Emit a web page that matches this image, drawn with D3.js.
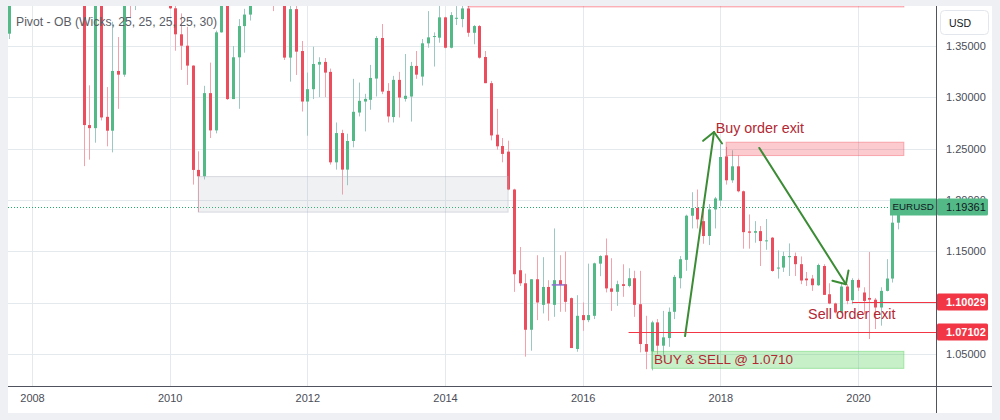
<!DOCTYPE html>
<html>
<head>
<meta charset="utf-8">
<script src="https://cdn.jsdelivr.net/npm/d3@7"></script>
<style>
html,body{margin:0;padding:0;background:#eef0f4;}
svg{display:block;font-family:"Liberation Sans",Arial,sans-serif;}
</style>
</head>
<body>
<svg id="chart" width="1000" height="420"></svg>
<script>
// ---------- DATA (EURUSD, monthly) ----------
const months = [
"2007-09","2007-10","2007-11","2007-12",
"2008-01","2008-02","2008-03","2008-04","2008-05","2008-06","2008-07","2008-08","2008-09","2008-10","2008-11","2008-12",
"2009-01","2009-02","2009-03","2009-04","2009-05","2009-06","2009-07","2009-08","2009-09","2009-10","2009-11","2009-12",
"2010-01","2010-02","2010-03","2010-04","2010-05","2010-06","2010-07","2010-08","2010-09","2010-10","2010-11","2010-12",
"2011-01","2011-02","2011-03","2011-04","2011-05","2011-06","2011-07","2011-08","2011-09","2011-10","2011-11","2011-12",
"2012-01","2012-02","2012-03","2012-04","2012-05","2012-06","2012-07","2012-08","2012-09","2012-10","2012-11","2012-12",
"2013-01","2013-02","2013-03","2013-04","2013-05","2013-06","2013-07","2013-08","2013-09","2013-10","2013-11","2013-12",
"2014-01","2014-02","2014-03","2014-04","2014-05","2014-06","2014-07","2014-08","2014-09","2014-10","2014-11","2014-12",
"2015-01","2015-02","2015-03","2015-04","2015-05","2015-06","2015-07","2015-08","2015-09","2015-10","2015-11","2015-12",
"2016-01","2016-02","2016-03","2016-04","2016-05","2016-06","2016-07","2016-08","2016-09","2016-10","2016-11","2016-12",
"2017-01","2017-02","2017-03","2017-04","2017-05","2017-06","2017-07","2017-08","2017-09","2017-10","2017-11","2017-12",
"2018-01","2018-02","2018-03","2018-04","2018-05","2018-06","2018-07","2018-08","2018-09","2018-10","2018-11","2018-12",
"2019-01","2019-02","2019-03","2019-04","2019-05","2019-06","2019-07","2019-08","2019-09","2019-10","2019-11","2019-12",
"2020-01","2020-02","2020-03","2020-04","2020-05","2020-06","2020-07","2020-08"
];
const open = [
1.3620,1.4190,1.4480,1.4630,
1.4590,1.4840,1.5180,1.5790,1.5600,1.5550,1.5750,1.5600,1.4680,1.4090,1.2730,1.2700,
1.3970,1.2810,1.2675,1.3257,1.3221,1.4150,1.4030,1.4250,1.4330,1.4640,1.4720,1.5000,
1.4320,1.3867,1.3614,1.3503,1.3309,1.2293,1.2231,1.3041,1.2678,1.3633,1.3930,1.2983,
1.3390,1.3694,1.3806,1.4160,1.4810,1.4400,1.4500,1.4390,1.4380,1.3387,1.3859,1.3451,
1.2959,1.3079,1.3319,1.3345,1.3248,1.2367,1.2652,1.2296,1.2575,1.2852,1.2959,1.2976,
1.3183,1.3578,1.3063,1.2808,1.3170,1.2985,1.3008,1.3306,1.3202,1.3526,1.3590,1.3581,
1.3779,1.3483,1.3765,1.3762,1.3866,1.3629,1.3694,1.3393,1.3138,1.2636,1.2526,1.2471,
1.2102,1.1316,1.1189,1.0736,1.1228,1.0979,1.1153,1.0979,1.1219,1.1180,1.1044,1.0549,
1.0879,1.0830,1.0872,1.1380,1.1461,1.1139,1.1106,1.1180,1.1163,1.1238,1.0985,1.0597,
1.0526,1.0808,1.0581,1.0655,1.0911,1.1238,1.1417,1.1847,1.1922,1.1794,1.1649,1.1908,
1.1995,1.2425,1.2192,1.2328,1.2085,1.1694,1.1681,1.1697,1.1600,1.1633,1.1332,1.1342,
1.1443,1.1454,1.1375,1.1235,1.1235,1.1170,1.1357,1.1082,1.0992,1.0905,1.1157,1.1024,
1.1221,1.1099,1.1046,1.1029,1.0953,1.1115,1.1235,1.1779
];
const high = [
1.4280,1.4530,1.4967,1.4750,
1.4900,1.5240,1.5900,1.6020,1.5820,1.5840,1.6040,1.5600,1.4870,1.4150,1.3117,1.4720,
1.4000,1.3100,1.3736,1.3587,1.4170,1.4340,1.4300,1.4440,1.4780,1.5060,1.5140,1.5140,
1.4580,1.3990,1.3817,1.3687,1.3312,1.2474,1.3112,1.3338,1.3650,1.4160,1.4280,1.3500,
1.3762,1.3862,1.4250,1.4880,1.4940,1.4700,1.4580,1.4550,1.4450,1.4250,1.3890,1.3549,
1.3241,1.3493,1.3390,1.3383,1.3280,1.2755,1.2684,1.2646,1.3180,1.3144,1.3034,1.3316,
1.3597,1.3714,1.3138,1.3209,1.3248,1.3422,1.3345,1.3451,1.3568,1.3840,1.3633,1.3890,
1.3785,1.3830,1.3889,1.3905,1.3993,1.3704,1.3704,1.3451,1.3160,1.2888,1.2604,1.2578,
1.2110,1.1542,1.1283,1.1230,1.1462,1.1443,1.1219,1.1723,1.1462,1.1498,1.1050,1.1073,
1.1002,1.1380,1.1390,1.1462,1.1625,1.1433,1.1214,1.1374,1.1335,1.1311,1.1310,1.0872,
1.0824,1.0840,1.0920,1.0953,1.1270,1.1454,1.1857,1.2076,1.2102,1.1944,1.1960,1.2030,
1.2548,1.2517,1.2484,1.2432,1.2092,1.1859,1.1794,1.1746,1.1815,1.1640,1.1509,1.1497,
1.1577,1.1488,1.1450,1.1299,1.1270,1.1380,1.1374,1.1189,1.1000,1.1186,1.1180,1.1238,
1.1235,1.1150,1.1493,1.1046,1.1150,1.1424,1.1909,1.1966
];
const low = [
1.3568,1.4090,1.4430,1.4330,
1.4380,1.4450,1.5140,1.5510,1.5300,1.5280,1.5580,1.4440,1.3890,1.2330,1.2393,1.2558,
1.2775,1.2523,1.2464,1.2888,1.3200,1.3770,1.3850,1.4050,1.4150,1.4480,1.4700,1.4210,
1.3860,1.3454,1.3267,1.3121,1.2150,1.1882,1.2200,1.2604,1.2649,1.3630,1.2975,1.2983,
1.2888,1.3435,1.3748,1.4140,1.3970,1.4075,1.3840,1.4050,1.3364,1.3153,1.3218,1.2862,
1.2626,1.2983,1.3002,1.3002,1.2345,1.2296,1.2053,1.2144,1.2513,1.2814,1.2668,1.2879,
1.3008,1.3031,1.2755,1.2755,1.2804,1.2959,1.2764,1.3180,1.3115,1.3483,1.3300,1.3532,
1.3477,1.3477,1.3704,1.3682,1.3590,1.3517,1.3377,1.3138,1.2581,1.2490,1.2367,1.2095,
1.1105,1.1163,1.0474,1.0532,1.0830,1.0895,1.0824,1.0862,1.0911,1.0911,1.0558,1.0522,
1.0726,1.0810,1.0840,1.1258,1.1100,1.0920,1.0969,1.1057,1.1150,1.0862,1.0516,1.0352,
1.0340,1.0493,1.0478,1.0570,1.0840,1.1139,1.1310,1.1723,1.1723,1.1574,1.1561,1.1723,
1.1940,1.2150,1.2167,1.2075,1.1526,1.1526,1.1584,1.1357,1.1515,1.1302,1.1235,1.1299,
1.1260,1.1260,1.1180,1.1163,1.1115,1.1163,1.1075,1.0985,1.0895,1.0898,1.0985,1.0985,
1.1115,1.0888,1.0646,1.0743,1.0776,1.1110,1.1196,1.1714
];
const close = [
1.4190,1.4480,1.4630,1.4590,
1.4840,1.5180,1.5790,1.5600,1.5550,1.5750,1.5600,1.4680,1.4090,1.2730,1.2700,1.3970,
1.2804,1.2675,1.3257,1.3221,1.4150,1.4030,1.4250,1.4330,1.4640,1.4720,1.5000,1.4320,
1.3867,1.3614,1.3503,1.3309,1.2293,1.2231,1.3041,1.2678,1.3633,1.3930,1.2983,1.3390,
1.3694,1.3806,1.4160,1.4810,1.4400,1.4500,1.4390,1.4380,1.3387,1.3859,1.3445,1.2959,
1.3079,1.3325,1.3345,1.3241,1.2367,1.2652,1.2296,1.2575,1.2859,1.2966,1.2985,1.3189,
1.3578,1.3056,1.2814,1.3170,1.2998,1.3015,1.3306,1.3221,1.3526,1.3584,1.3597,1.3779,
1.3483,1.3801,1.3775,1.3866,1.3629,1.3694,1.3386,1.3138,1.2629,1.2523,1.2449,1.2102,
1.1277,1.1189,1.0736,1.1228,1.1002,1.1153,1.0992,1.1219,1.1173,1.1008,1.0558,1.0872,
1.0830,1.0879,1.1383,1.1454,1.1139,1.1106,1.1180,1.1163,1.1238,1.0979,1.0597,1.0522,
1.0808,1.0581,1.0662,1.0911,1.1251,1.1423,1.1847,1.1922,1.1811,1.1649,1.1908,1.2015,
1.2419,1.2192,1.2328,1.2085,1.1687,1.1681,1.1697,1.1600,1.1607,1.1309,1.1342,1.1454,
1.1454,1.1375,1.1216,1.1218,1.1170,1.1367,1.1076,1.0992,1.0905,1.1157,1.1017,1.1221,
1.1147,1.1017,1.1029,1.0953,1.1115,1.1235,1.1779,1.1936
];
const xTickYears = ["2008","2010","2012","2014","2016","2018","2020"];
const yTicks = [1.35, 1.30, 1.25, 1.20, 1.15, 1.10, 1.05];
const symbol = "EURUSD";
const currency = "USD";
const lastPrice = 1.19361;
const indicatorTitle = "Pivot - OB (Wicks, 25, 25, 25, 25, 30)";
// zones: from month, to month, top price, bottom price, kind
const zoneFrom   = ["2010-06", "2014-05", "2018-02", "2017-01"];
const zoneTo     = ["2014-12", "2020-09", "2020-09", "2020-09"];
const zoneTop    = [1.2228, 1.3993, 1.2563, 1.0526];
const zoneBottom = [1.1882, 1.3880, 1.2433, 1.0360];
const zoneKind   = ["ob", "sell", "sell", "buy"];
// horizontal price lines
const levelPrice = [1.10029, 1.07102];
const levelFrom  = ["2019-12", "2016-09"];
// trend arrows: start (month index from Jan 2008, price) -> end
const arrowFromMonth = [113.85, 126.8];
const arrowFromPrice = [1.0675, 1.2507];
const arrowToMonth   = [118.9, 141.9];
const arrowToPrice   = [1.2662, 1.1180];
// text notes
const noteText  = ["Buy order exit", "Sell order exit", "BUY & SELL @ 1.0710"];
const noteMonth = [119.2, 135.3, 108.45];
const notePrice = [1.2650, 1.0840, 1.0400];
// small indicator segment
const segFrom = 90.6, segTo = 92.9, segPrice = 1.1173;

// ---------- LAYOUT ----------
const W = 1000, H = 420;
const PX0 = 8, PX1 = 936, PY0 = 6, PY1 = 386;
const monthIndex = s => (+s.slice(0,4) - 2008) * 12 + (+s.slice(5,7) - 1);
const x = d3.scaleLinear().domain([0, 144]).range([32, 858]);
const y = d3.scaleLinear().domain([1.05, 1.35]).range([354, 46]);

const C = {
  up: "#52b987", down: "#eb4d5c",
  wickUp: "#9cc8c2", wickDown: "#f5a0aa",
  grid: "#e4e9ee", axis: "#50535e", text: "#4a4d57",
  note: "#b22833", arrow: "#3b8c35"
};

const svg = d3.select("#chart");
svg.append("rect").attr("width", W).attr("height", H).attr("fill", "#eef0f4");
svg.append("rect").attr("x", PX0).attr("y", PY0).attr("width", 992 - PX0).attr("height", 413 - PY0).attr("fill", "#ffffff");

svg.append("defs").append("clipPath").attr("id", "plotclip")
  .append("rect").attr("x", PX0).attr("y", PY0).attr("width", PX1 - PX0).attr("height", PY1 - PY0);

// grid
const grid = svg.append("g");
grid.selectAll("line.v").data(xTickYears).join("line")
  .attr("x1", d => Math.round(x(monthIndex(d + "-01"))) + 0.5)
  .attr("x2", d => Math.round(x(monthIndex(d + "-01"))) + 0.5)
  .attr("y1", PY0).attr("y2", PY1).attr("stroke", C.grid);
grid.selectAll("line.h").data(yTicks).join("line")
  .attr("x1", PX0).attr("x2", PX1)
  .attr("y1", d => Math.round(y(d)) + 0.5).attr("y2", d => Math.round(y(d)) + 0.5)
  .attr("stroke", C.grid);

const plot = svg.append("g").attr("clip-path", "url(#plotclip)");

// last price dotted line
plot.append("line").attr("x1", PX0).attr("x2", PX1)
  .attr("y1", Math.round(y(lastPrice)) + 0.5).attr("y2", Math.round(y(lastPrice)) + 0.5)
  .attr("stroke", "#1fae68").attr("stroke-dasharray", "1,2");

// candles
const data = months.map((m, i) => ({ i: monthIndex(m), o: open[i], h: high[i], l: low[i], c: close[i] }));
const cx = d => Math.round(x(d.i));
plot.selectAll("line.wick").data(data).join("line")
  .attr("x1", d => cx(d) + 0.5).attr("x2", d => cx(d) + 0.5)
  .attr("y1", d => y(d.h)).attr("y2", d => y(d.l))
  .attr("stroke", d => d.c >= d.o ? C.wickUp : C.wickDown).attr("stroke-width", 1);
plot.selectAll("rect.body").data(data).join("rect")
  .attr("x", d => cx(d) - 1).attr("width", 3)
  .attr("y", d => y(Math.max(d.o, d.c)))
  .attr("height", d => Math.max(1, Math.abs(y(d.o) - y(d.c))))
  .attr("fill", d => d.c >= d.o ? C.up : C.down);

// zones
const zoneStyle = {
  ob:   { fill: "rgba(175,180,190,0.19)", stroke: "rgba(175,180,190,0.45)" },
  sell: { fill: "rgba(242,54,69,0.26)", stroke: "rgba(242,54,69,0.35)" },
  buy:  { fill: "rgba(70,205,75,0.30)", stroke: "rgba(70,205,75,0.40)" }
};
plot.selectAll("rect.zone").data(zoneFrom.map((f, k) => k)).join("rect")
  .attr("x", k => x(monthIndex(zoneFrom[k])))
  .attr("width", k => x(monthIndex(zoneTo[k])) - x(monthIndex(zoneFrom[k])))
  .attr("y", k => y(zoneTop[k]))
  .attr("height", k => y(zoneBottom[k]) - y(zoneTop[k]))
  .attr("fill", k => zoneStyle[zoneKind[k]].fill)
  .attr("stroke", k => zoneStyle[zoneKind[k]].stroke);

// indicator segment
plot.append("line").attr("x1", x(segFrom)).attr("x2", x(segTo))
  .attr("y1", y(segPrice)).attr("y2", y(segPrice))
  .attr("stroke", "#8e6fd0").attr("stroke-width", 1.5);

// horizontal price levels
plot.selectAll("line.level").data(levelPrice).join("line")
  .attr("x1", (d, k) => x(monthIndex(levelFrom[k]))).attr("x2", PX1)
  .attr("y1", d => Math.round(y(d)) + 0.5).attr("y2", d => Math.round(y(d)) + 0.5)
  .attr("stroke", "#f23645").attr("stroke-width", 1);

// arrows
arrowFromMonth.forEach((m, k) => {
  const x1 = x(m), y1 = y(arrowFromPrice[k]), x2 = x(arrowToMonth[k]), y2 = y(arrowToPrice[k]);
  const g = plot.append("g").attr("stroke", C.arrow).attr("stroke-width", 2).attr("stroke-linecap", "round").attr("fill", "none");
  g.append("line").attr("x1", x1).attr("y1", y1).attr("x2", x2).attr("y2", y2);
  const ang = Math.atan2(y1 - y2, x1 - x2), len = 14, spread = 43 * Math.PI / 180;
  const pts = [[x2 + len * Math.cos(ang - spread), y2 + len * Math.sin(ang - spread)], [x2, y2],
               [x2 + len * Math.cos(ang + spread), y2 + len * Math.sin(ang + spread)]];
  g.append("path").attr("d", d3.line()(pts)).attr("stroke-linejoin", "round");
});

// notes
svg.selectAll("text.note").data(noteText).join("text")
  .attr("x", (d, k) => x(noteMonth[k])).attr("y", (d, k) => y(notePrice[k]))
  .attr("font-size", (d, k) => k === 2 ? 13.5 : 14.3).attr("fill", C.note).text(d => d);

// indicator title
svg.append("text").attr("x", 16).attr("y", 26).attr("font-size", 12.2)
  .attr("fill", "#5a5d66").text(indicatorTitle);

// axes
const yAxis = d3.axisRight(y).tickValues(yTicks).tickFormat(d3.format(".5f")).tickSize(0).tickPadding(10);
const gy = svg.append("g").attr("transform", `translate(${PX1},0)`).call(yAxis);
gy.select(".domain").remove();
gy.selectAll("text").attr("font-size", 11).attr("fill", C.text).attr("font-family", "Liberation Sans, Arial, sans-serif");

const xAxis = d3.axisBottom(x).tickValues(xTickYears.map(d => monthIndex(d + "-01")))
  .tickFormat((d, i) => xTickYears[i]).tickSize(0).tickPadding(8);
const gx = svg.append("g").attr("transform", `translate(0,${PY1})`).call(xAxis);
gx.select(".domain").remove();
gx.selectAll("text").attr("font-size", 11).attr("fill", C.text).attr("font-family", "Liberation Sans, Arial, sans-serif");

svg.append("line").attr("x1", PX0).attr("x2", 992).attr("y1", PY1 + 0.5).attr("y2", PY1 + 0.5).attr("stroke", C.axis);
svg.append("line").attr("x1", PX1 + 0.5).attr("x2", PX1 + 0.5).attr("y1", PY0).attr("y2", 413).attr("stroke", C.axis);

// currency box
svg.append("rect").attr("x", 940.5).attr("y", 10.5).attr("width", 48).attr("height", 24).attr("rx", 4)
  .attr("fill", "#fff").attr("stroke", "#e3e6ec");
svg.append("text").attr("x", 949).attr("y", 26.5).attr("font-size", 10.5).attr("fill", "#131722").text(currency);

// price tags
const tagH = 17;
function priceTag(price, bg, fg, bold) {
  const yy = Math.round(y(price));
  svg.append("rect").attr("x", PX1 + 1).attr("y", yy - tagH / 2).attr("width", 988 - PX1 - 1).attr("height", tagH)
    .attr("rx", 1.5).attr("fill", bg);
  svg.append("text").attr("x", 946).attr("y", yy).attr("dy", "0.35em").attr("font-size", 11)
    .attr("font-weight", bold ? "bold" : "normal").attr("fill", fg).text(d3.format(".5f")(price));
}
// symbol tag
{
  const yy = Math.round(y(lastPrice));
  svg.append("rect").attr("x", 890).attr("y", yy - tagH / 2).attr("width", PX1 - 890).attr("height", tagH).attr("fill", C.up);
  svg.append("text").attr("x", 892.5).attr("y", yy).attr("dy", "0.35em").attr("font-size", 9.8).attr("fill", "#131722").text(symbol);
}
priceTag(lastPrice, C.up, "#131722", false);
levelPrice.forEach(p => priceTag(p, "#f23645", "#ffffff", true));
</script>
</body>
</html>
